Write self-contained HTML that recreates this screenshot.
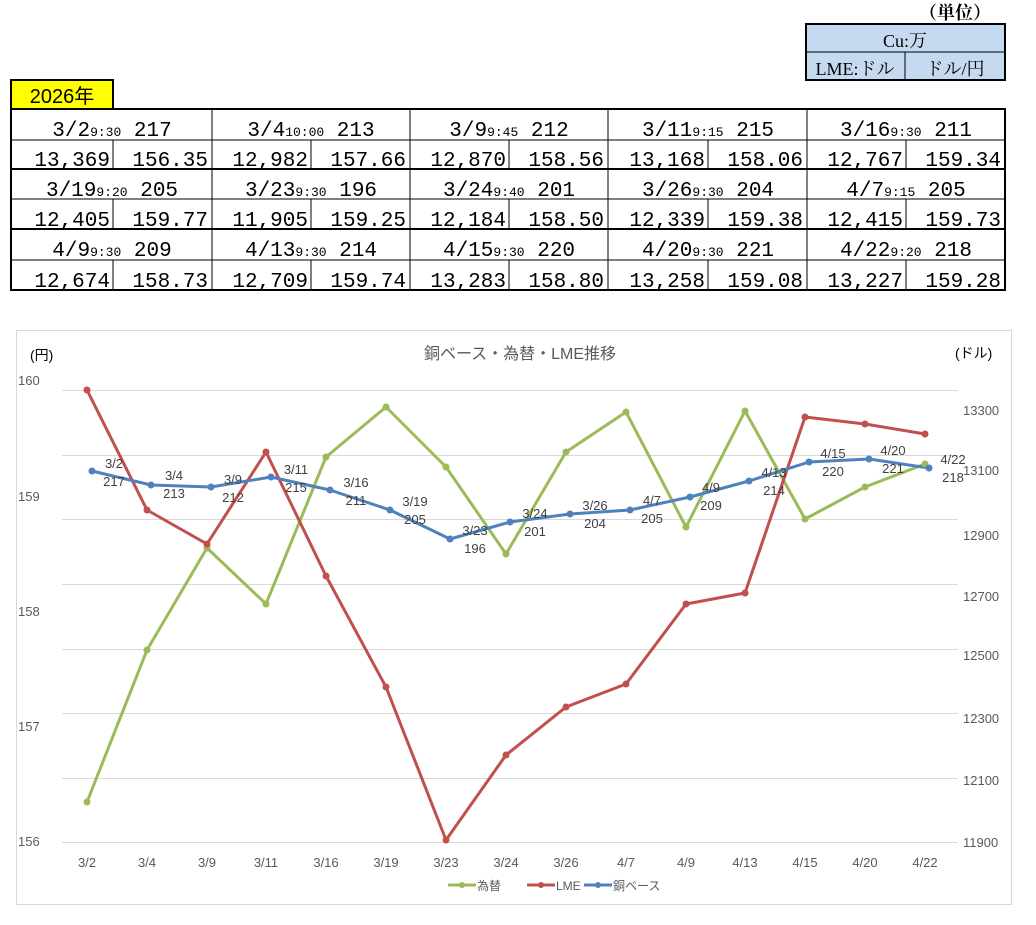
<!DOCTYPE html>
<html><head><meta charset="utf-8"><style>
html,body{margin:0;padding:0;background:#fff;}
body{width:1036px;height:920px;overflow:hidden;}
svg text{font-family:"Liberation Sans","Noto Sans CJK JP",sans-serif;}
svg .t text{font-family:"Liberation Mono","Noto Sans CJK JP",monospace;fill:#000;}
svg .s text{font-family:"Liberation Serif","Noto Serif CJK SC",serif;fill:#000;}
</style></head><body>
<svg width="1036" height="920" xmlns="http://www.w3.org/2000/svg">
<!-- unit box -->
<g class="s">
<text x="955" y="19" text-anchor="middle" font-size="18" font-weight="bold">（単位）</text>
<rect x="806" y="24" width="199" height="56" fill="#c5d9f1" stroke="#000" stroke-width="2"/>
<line x1="806" y1="52" x2="1005" y2="52" stroke="#000" stroke-width="1"/>
<line x1="905" y1="52" x2="905" y2="80" stroke="#000" stroke-width="1"/>
<text x="905" y="47" text-anchor="middle" font-size="18">Cu:万</text>
<text x="855" y="75" text-anchor="middle" font-size="18">LME:ドル</text>
<text x="955" y="75" text-anchor="middle" font-size="18">ドル/円</text>
</g>
<!-- year -->
<rect x="11" y="80" width="102" height="29" fill="#ffff00" stroke="#000" stroke-width="2"/>
<text x="62" y="103" text-anchor="middle" font-size="20">2026年</text>
<!-- table -->
<g stroke="#000" fill="none">
<rect x="11" y="109" width="994" height="181" stroke-width="2"/>
<line x1="11" y1="169" x2="1005" y2="169" stroke-width="2"/>
<line x1="11" y1="229" x2="1005" y2="229" stroke-width="2"/>
<line x1="11" y1="140" x2="1005" y2="140"/>
<line x1="11" y1="199" x2="1005" y2="199"/>
<line x1="11" y1="260" x2="1005" y2="260"/>
<line x1="212" y1="109" x2="212" y2="290"/>
<line x1="410" y1="109" x2="410" y2="290"/>
<line x1="608" y1="109" x2="608" y2="290"/>
<line x1="807" y1="109" x2="807" y2="290"/>
<line x1="113" y1="140" x2="113" y2="169"/><line x1="113" y1="199" x2="113" y2="229"/><line x1="113" y1="260" x2="113" y2="290"/>
<line x1="311" y1="140" x2="311" y2="169"/><line x1="311" y1="199" x2="311" y2="229"/><line x1="311" y1="260" x2="311" y2="290"/>
<line x1="509" y1="140" x2="509" y2="169"/><line x1="509" y1="199" x2="509" y2="229"/><line x1="509" y1="260" x2="509" y2="290"/>
<line x1="708" y1="140" x2="708" y2="169"/><line x1="708" y1="199" x2="708" y2="229"/><line x1="708" y1="260" x2="708" y2="290"/>
<line x1="906" y1="140" x2="906" y2="169"/><line x1="906" y1="199" x2="906" y2="229"/><line x1="906" y1="260" x2="906" y2="290"/>
</g>
<g class="t" font-size="21" text-anchor="middle">
<text x="112" y="136">3/2<tspan font-size="13">9:30</tspan> 217</text>
<text x="311" y="136">3/4<tspan font-size="13">10:00</tspan> 213</text>
<text x="509" y="136">3/9<tspan font-size="13">9:45</tspan> 212</text>
<text x="708" y="136">3/11<tspan font-size="13">9:15</tspan> 215</text>
<text x="906" y="136">3/16<tspan font-size="13">9:30</tspan> 211</text>
<text x="112" y="196">3/19<tspan font-size="13">9:20</tspan> 205</text>
<text x="311" y="196">3/23<tspan font-size="13">9:30</tspan> 196</text>
<text x="509" y="196">3/24<tspan font-size="13">9:40</tspan> 201</text>
<text x="708" y="196">3/26<tspan font-size="13">9:30</tspan> 204</text>
<text x="906" y="196">4/7<tspan font-size="13">9:15</tspan> 205</text>
<text x="112" y="256">4/9<tspan font-size="13">9:30</tspan> 209</text>
<text x="311" y="256">4/13<tspan font-size="13">9:30</tspan> 214</text>
<text x="509" y="256">4/15<tspan font-size="13">9:30</tspan> 220</text>
<text x="708" y="256">4/20<tspan font-size="13">9:30</tspan> 221</text>
<text x="906" y="256">4/22<tspan font-size="13">9:20</tspan> 218</text>
</g>
<g class="t" font-size="21" text-anchor="end">
<text x="110" y="166">13,369</text><text x="208" y="166">156.35</text>
<text x="308" y="166">12,982</text><text x="406" y="166">157.66</text>
<text x="506" y="166">12,870</text><text x="604" y="166">158.56</text>
<text x="705" y="166">13,168</text><text x="803" y="166">158.06</text>
<text x="903" y="166">12,767</text><text x="1001" y="166">159.34</text>
<text x="110" y="226">12,405</text><text x="208" y="226">159.77</text>
<text x="308" y="226">11,905</text><text x="406" y="226">159.25</text>
<text x="506" y="226">12,184</text><text x="604" y="226">158.50</text>
<text x="705" y="226">12,339</text><text x="803" y="226">159.38</text>
<text x="903" y="226">12,415</text><text x="1001" y="226">159.73</text>
<text x="110" y="287">12,674</text><text x="208" y="287">158.73</text>
<text x="308" y="287">12,709</text><text x="406" y="287">159.74</text>
<text x="506" y="287">13,283</text><text x="604" y="287">158.80</text>
<text x="705" y="287">13,258</text><text x="803" y="287">159.08</text>
<text x="903" y="287">13,227</text><text x="1001" y="287">159.28</text>
</g>
<!-- chart -->
<rect x="16.5" y="330.5" width="995" height="574" fill="#fff" stroke="#d9d9d9"/>
<text x="520" y="359" text-anchor="middle" font-size="16" fill="#595959">銅ベース・為替・LME推移</text>
<text x="30" y="360" font-size="14" fill="#000">(円)</text>
<text x="955" y="358" font-size="14" fill="#000">(ドル)</text>
<g stroke="#d9d9d9" stroke-width="1">
<line x1="62" y1="390.5" x2="958" y2="390.5"/><line x1="62" y1="455.5" x2="958" y2="455.5"/>
<line x1="62" y1="519.5" x2="958" y2="519.5"/><line x1="62" y1="584.5" x2="958" y2="584.5"/>
<line x1="62" y1="649.5" x2="958" y2="649.5"/><line x1="62" y1="713.5" x2="958" y2="713.5"/>
<line x1="62" y1="778.5" x2="958" y2="778.5"/><line x1="62" y1="842.5" x2="958" y2="842.5"/>
</g>
<g font-size="13" fill="#595959">
<text x="18" y="385">160</text><text x="18" y="501">159</text><text x="18" y="616">158</text><text x="18" y="731">157</text><text x="18" y="846">156</text>
<text x="963" y="415">13300</text><text x="963" y="475">13100</text><text x="963" y="540">12900</text><text x="963" y="601">12700</text><text x="963" y="660">12500</text><text x="963" y="723">12300</text><text x="963" y="785">12100</text><text x="963" y="847">11900</text>
</g>
<g font-size="13" fill="#595959" text-anchor="middle">
<text x="87" y="867">3/2</text><text x="147" y="867">3/4</text><text x="207" y="867">3/9</text><text x="266" y="867">3/11</text><text x="326" y="867">3/16</text><text x="386" y="867">3/19</text><text x="446" y="867">3/23</text><text x="506" y="867">3/24</text><text x="566" y="867">3/26</text><text x="626" y="867">4/7</text><text x="686" y="867">4/9</text><text x="745" y="867">4/13</text><text x="805" y="867">4/15</text><text x="865" y="867">4/20</text><text x="925" y="867">4/22</text>
</g>
<g fill="none" stroke-width="3" stroke-linejoin="round">
<polyline stroke="#9bbb59" points="87,802 147,650 207,548 266,604 326,457 386,407 446,467 506,554 566,452 626,412 686,527 745,411 805,519 865,487 925,464"/>
<polyline stroke="#c0504d" points="87,390 147,510 207,544 266,452 326,576 386,687 446,840 506,755 566,707 626,684 686,604 745,593 805,417 865,424 925,434"/>
<polyline stroke="#4f81bd" points="92,471 151,485 211,487 271,477 330,490 390,510 450,539 510,522 570,514 630,510 690,497 749,481 809,462 869,459 929,468"/>
</g>
<g fill="#9bbb59"><circle cx="87" cy="802" r="3.5"/><circle cx="147" cy="650" r="3.5"/><circle cx="207" cy="548" r="3.5"/><circle cx="266" cy="604" r="3.5"/><circle cx="326" cy="457" r="3.5"/><circle cx="386" cy="407" r="3.5"/><circle cx="446" cy="467" r="3.5"/><circle cx="506" cy="554" r="3.5"/><circle cx="566" cy="452" r="3.5"/><circle cx="626" cy="412" r="3.5"/><circle cx="686" cy="527" r="3.5"/><circle cx="745" cy="411" r="3.5"/><circle cx="805" cy="519" r="3.5"/><circle cx="865" cy="487" r="3.5"/><circle cx="925" cy="464" r="3.5"/></g>
<g fill="#c0504d"><circle cx="87" cy="390" r="3.5"/><circle cx="147" cy="510" r="3.5"/><circle cx="207" cy="544" r="3.5"/><circle cx="266" cy="452" r="3.5"/><circle cx="326" cy="576" r="3.5"/><circle cx="386" cy="687" r="3.5"/><circle cx="446" cy="840" r="3.5"/><circle cx="506" cy="755" r="3.5"/><circle cx="566" cy="707" r="3.5"/><circle cx="626" cy="684" r="3.5"/><circle cx="686" cy="604" r="3.5"/><circle cx="745" cy="593" r="3.5"/><circle cx="805" cy="417" r="3.5"/><circle cx="865" cy="424" r="3.5"/><circle cx="925" cy="434" r="3.5"/></g>
<g fill="#4f81bd"><circle cx="92" cy="471" r="3.5"/><circle cx="151" cy="485" r="3.5"/><circle cx="211" cy="487" r="3.5"/><circle cx="271" cy="477" r="3.5"/><circle cx="330" cy="490" r="3.5"/><circle cx="390" cy="510" r="3.5"/><circle cx="450" cy="539" r="3.5"/><circle cx="510" cy="522" r="3.5"/><circle cx="570" cy="514" r="3.5"/><circle cx="630" cy="510" r="3.5"/><circle cx="690" cy="497" r="3.5"/><circle cx="749" cy="481" r="3.5"/><circle cx="809" cy="462" r="3.5"/><circle cx="869" cy="459" r="3.5"/><circle cx="929" cy="468" r="3.5"/></g>
<g font-size="13" fill="#404040" text-anchor="middle">
<text x="114" y="468">3/2</text><text x="114" y="486">217</text>
<text x="174" y="480">3/4</text><text x="174" y="498">213</text>
<text x="233" y="484">3/9</text><text x="233" y="502">212</text>
<text x="296" y="474">3/11</text><text x="296" y="492">215</text>
<text x="356" y="487">3/16</text><text x="356" y="505">211</text>
<text x="415" y="506">3/19</text><text x="415" y="524">205</text>
<text x="475" y="535">3/23</text><text x="475" y="553">196</text>
<text x="535" y="518">3/24</text><text x="535" y="536">201</text>
<text x="595" y="510">3/26</text><text x="595" y="528">204</text>
<text x="652" y="505">4/7</text><text x="652" y="523">205</text>
<text x="711" y="492">4/9</text><text x="711" y="510">209</text>
<text x="774" y="477">4/13</text><text x="774" y="495">214</text>
<text x="833" y="458">4/15</text><text x="833" y="476">220</text>
<text x="893" y="455">4/20</text><text x="893" y="473">221</text>
<text x="953" y="464">4/22</text><text x="953" y="482">218</text>
</g>
<g font-size="12" fill="#595959">
<line x1="448" y1="885" x2="476" y2="885" stroke="#9bbb59" stroke-width="3"/><circle cx="462" cy="885" r="3" fill="#9bbb59"/>
<text x="477" y="890">為替</text>
<line x1="527" y1="885" x2="555" y2="885" stroke="#c0504d" stroke-width="3"/><circle cx="541" cy="885" r="3" fill="#c0504d"/>
<text x="556" y="890">LME</text>
<line x1="584" y1="885" x2="612" y2="885" stroke="#4f81bd" stroke-width="3"/><circle cx="598" cy="885" r="3" fill="#4f81bd"/>
<text x="613" y="890">銅ベース</text>
</g>
</svg>
</body></html>
